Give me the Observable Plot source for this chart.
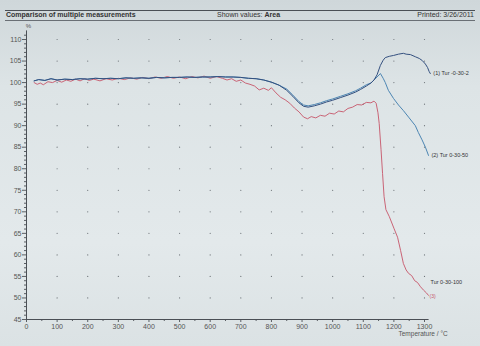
<!DOCTYPE html>
<html>
<head>
<meta charset="utf-8">
<script src="https://cdn.jsdelivr.net/npm/d3@7"></script>
<script src="https://cdn.jsdelivr.net/npm/@observablehq/plot@0.6"></script>
<style>
  html, body { margin:0; padding:0; }
  body { width:480px; height:346px; overflow:hidden;
         background: linear-gradient(#cfd7da 0%, #dde4e6 25%, #e3e9eb 70%, #dbe2e4 100%);
         font-family: "Liberation Sans", Arial, sans-serif; }
  #header { position:relative; height:22px; }
  #header .bar { position:absolute; left:5px; right:5px; top:10px; height:9px;
                 border-top:1.5px solid #4a4f55; border-bottom:1px solid #6a6f75; }
  #header span { position:absolute; top:11px; font-size:7px; color:#333; line-height:8px; }
  #t1 { left:6px; font-weight:bold; }
  #t2 { left:217px; }
  #t3 { right:6px; }
  #chart svg { display:block; }
</style>
</head>
<body>
<div id="header"><div class="bar"></div>
  <span id="t1">Comparison of multiple measurements</span>
  <span id="t2">Shown values: <b>Area</b></span>
  <span id="t3">Printed: 3/26/2011</span>
</div>
<div id="chart"></div>
<script>
// ---- data ----
const xTicks = [0,100,200,300,400,500,600,700,800,900,1000,1100,1200,1300];
const yTicks = [45,50,55,60,65,70,75,80,85,90,95,100,105,110];
const seriesNames = ["(1) Tur -0-30-2", "(2) Tur 0-30-50", "Tur 0-30-100"];

const baseT = [25,40,60,80,100,125,150,175,200,225,250,275,300,325,350,375,400,425,450,475,500,525,550,575,600,625,650,675,700,725,750,775,800,825,850,870,890,905,920,940,960,980,1000,1025,1050,1075,1091,1110,1125,1135];
const baseV = [100.4,100.7,100.5,100.9,100.6,100.8,100.7,100.9,100.8,101.0,100.9,101.0,100.9,101.1,101.0,101.1,101.0,101.2,101.1,101.2,101.2,101.3,101.2,101.3,101.3,101.4,101.3,101.3,101.2,101.0,100.9,100.6,100.1,99.4,98.2,96.8,95.3,94.5,94.3,94.6,95.0,95.5,95.9,96.5,97.1,97.8,98.4,99.2,99.9,100.6];

const s1TailT = [1145,1156,1165,1172,1185,1199,1215,1231,1240,1254,1270,1283,1293,1303,1310,1315,1319];
const s1TailV = [101.8,104.0,105.2,105.8,106.1,106.3,106.6,106.8,106.6,106.5,106.0,105.6,105.1,104.3,103.5,102.6,102.1];

const s2TailT = [1145,1156,1165,1172,1182,1199,1215,1231,1250,1270,1280,1292,1303,1313];
const s2TailV = [101.3,102.1,101.0,100.0,98.2,96.3,94.8,93.5,91.8,90.0,88.4,86.7,85.0,83.1];

const s3T = [25,35,45,55,70,85,100,115,130,145,160,175,190,205,220,240,260,280,300,320,340,360,380,400,420,440,460,480,500,520,540,560,580,600,620,640,655,670,685,700,715,730,745,760,775,790,800,815,830,845,860,875,890,905,918,930,945,960,975,990,1005,1020,1035,1050,1065,1080,1095,1110,1125,1135,1142,1148,1152,1158,1163,1168,1174,1185,1200,1212,1222,1231,1240,1248,1258,1268,1277,1287,1297,1306,1313];
const s3V = [100.0,99.6,99.9,99.5,100.2,100.0,100.5,100.1,100.6,100.3,100.8,100.4,100.9,100.5,100.8,100.4,100.9,100.6,101.0,100.7,101.1,100.8,101.2,100.9,101.3,101.0,101.4,101.0,101.3,100.9,101.4,101.1,101.5,101.0,101.4,101.0,100.6,100.9,100.3,100.6,99.9,99.6,99.2,98.3,98.7,98.2,98.8,97.6,96.6,96.0,95.2,94.1,93.2,92.0,91.6,92.1,91.8,92.4,92.2,92.9,92.7,93.4,93.2,94.0,94.3,94.9,94.8,95.4,95.3,95.7,95.2,93.0,90.5,84.5,78.9,73.5,70.5,68.9,66.2,64.1,61.0,58.0,56.5,55.7,55.2,54.0,53.6,52.6,51.8,51.2,50.6];

// ---- build tables ----
const s1 = baseT.map((t,i)=>({t, v:baseV[i]})).concat(s1TailT.map((t,i)=>({t, v:s1TailV[i]})));
const s2 = baseT.map((t,i)=>({t, v:baseV[i] + (t>840 && t<1120 ? 0.3 : 0)})).concat(s2TailT.map((t,i)=>({t, v:s2TailV[i]})));
const s3 = s3T.map((t,i)=>({t, v:s3V[i]}));

const grid = [];
for (const x of xTicks.slice(1)) for (const y of yTicks.slice(1)) grid.push({x, y});

const minorY = d3.range(45, 112, 1).filter(v => v % 5 !== 0);
const minorX = xTicks.slice(0, -1).map(v => v + 50);

const c1 = "#34507f", c2 = "#4d86b3", c3 = "#c65569";

const last = a => a[a.length-1];

const chart = Plot.plot({
  width: 480, height: 324,
  marginLeft: 26, marginRight: 56, marginTop: 8.4, marginBottom: 27,
  x: {domain: [0, 1300]},
  y: {domain: [45, 112]},
  style: {background: "transparent", fontFamily: "Liberation Sans, Arial, sans-serif", fontSize: "7px", color: "#555", overflow: "visible"},
  marks: [
    Plot.dot(grid, {x: "x", y: "y", r: 0.6, fill: "#6d7378", stroke: null}),
    Plot.axisY({ticks: minorY, tickSize: 2, text: null, stroke: "#5a5f64", label: null}),
    Plot.axisY({ticks: yTicks, tickSize: 4, tickPadding: 1, tickFormat: d => String(d), stroke: "#5a5f64", fill: "#555", label: null}),
    Plot.axisX({ticks: minorX, tickSize: 2, text: null, stroke: "#5a5f64", label: null}),
    Plot.axisX({ticks: xTicks, tickSize: 3, tickPadding: 2, tickFormat: d => String(d), stroke: "#5a5f64", fill: "#555", label: null}),
    Plot.ruleX([0], {y1: 45, y2: 112, stroke: "#4a4f55"}),
    Plot.ruleY([45], {x1: 0, x2: 1315, stroke: "#4a4f55"}),
    Plot.text(["%"], {x: 0, y: 112, dx: 2, dy: -5, fontSize: 6, fill: "#555"}),
    Plot.text(["Temperature / °C"], {x: 1300, y: 45, dx: -26, dy: 14.5, textAnchor: "start", fontSize: 6.5, fill: "#555"}),
    Plot.line(s3, {x: "t", y: "v", stroke: c3, strokeWidth: 0.9}),
    Plot.line(s2, {x: "t", y: "v", stroke: c2, strokeWidth: 1}),
    Plot.line(s1, {x: "t", y: "v", stroke: c1, strokeWidth: 1}),
    Plot.text([last(s1)], {x: "t", y: "v", text: () => seriesNames[0], dx: 3, textAnchor: "start", fontSize: 5.5, fill: "#333"}),
    Plot.text([last(s2)], {x: "t", y: "v", text: () => seriesNames[1], dx: 3, textAnchor: "start", fontSize: 5.5, fill: "#333"}),
    Plot.text([last(s3)], {x: "t", y: "v", text: () => seriesNames[2], dx: 2, dy: -13, textAnchor: "start", fontSize: 5.5, fill: "#333"}),
    Plot.text([last(s3)], {x: "t", y: "v", text: () => "(3)", dx: 1, dy: 1, textAnchor: "start", fontSize: 5, fill: c3})
  ]
});
document.getElementById("chart").appendChild(chart);
</script>
</body>
</html>
